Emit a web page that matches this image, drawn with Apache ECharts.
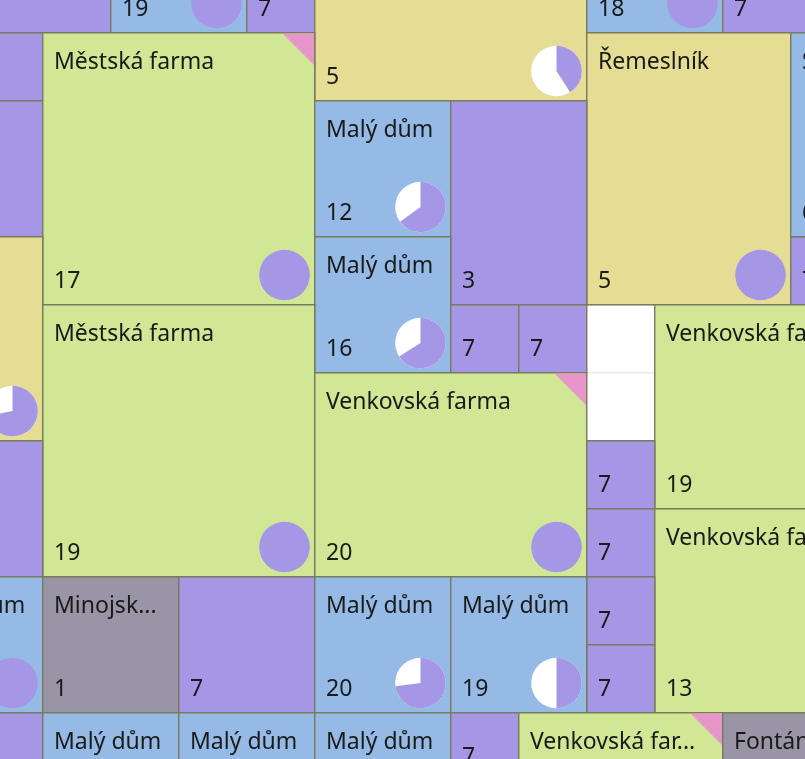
<!DOCTYPE html>
<html><head><meta charset="utf-8">
<script src="https://cdn.jsdelivr.net/npm/echarts@6/dist/echarts.min.js"></script>
<style>html,body{margin:0;padding:0;background:#fff;overflow:hidden}#c{width:805px;height:759px}</style>
</head><body><div id="c"></div>
<script>
// Tile data (grid units: column, row, width, height)
const tileNames = ['', '', '', 'Malý dům', '', 'Řemeslník', 'Malý dům', '', '', '', 'Městská farma', 'Řemeslník', 'Střední dům', 'Malý dům', '', 'Řemeslník', 'Malý dům', '', 'Městská farma', '', '', 'Venkovská farma', 'Venkovská farma', '', '', '', 'Venkovská farma', '', '', 'Malý dům', 'Minojský palác', '', 'Malý dům', 'Malý dům', '', 'Malý dům', 'Malý dům', 'Malý dům', '', 'Venkovská farma', 'Fontána'];
const tileKinds = ['empty', 'empty', 'road', 'house', 'road', 'craft', 'house', 'road', 'road', 'road', 'farm', 'craft', 'house', 'house', 'road', 'craft', 'house', 'road', 'farm', 'road', 'road', 'farm', 'farm', 'road', 'road', 'road', 'farm', 'road', 'road', 'house', 'wonder', 'road', 'house', 'house', 'road', 'house', 'house', 'house', 'road', 'farm', 'wonder'];
const tileCol = [8, 8, -1, 1, 3, 4, 8, 10, -1, -1, 0, 8, 11, 4, 6, -4, 4, 11, 0, 6, 7, 9, 4, -1, 8, 8, 9, 8, 8, -2, 0, 2, 4, 6, -1, 0, 2, 4, 6, 7, 10];
const tileRow = [4, 5, -1, -2, -1, -2, -2, -1, 0, 1, 0, 0, 0, 1, 1, 3, 3, 3, 4, 4, 4, 4, 5, 6, 6, 7, 7, 8, 9, 8, 8, 8, 8, 8, 10, 10, 10, 10, 10, 10, 10];
const tileW = [1, 1, 2, 2, 1, 4, 2, 2, 1, 1, 4, 3, 2, 2, 2, 4, 2, 1, 4, 1, 1, 4, 4, 1, 1, 1, 4, 1, 1, 2, 2, 2, 2, 2, 1, 2, 2, 2, 1, 3, 2];
const tileH = [1, 1, 1, 2, 1, 3, 2, 1, 1, 2, 4, 4, 3, 2, 3, 3, 2, 1, 4, 1, 1, 3, 3, 2, 1, 1, 3, 1, 1, 2, 2, 2, 2, 2, 1, 2, 2, 2, 1, 3, 2];
const tileValues = [null, null, 7, 19, 7, 5, 18, 7, 7, 3, 17, 5, 6, 12, 3, 5, 16, 7, 19, 7, 7, 19, 20, 7, 7, 7, 13, 7, 7, 14, 1, 7, 20, 19, 7, 15, 15, 15, 7, 15, 1];
const tileShares = [null, null, null, 1, null, 0.41, 1, null, null, null, 1, 1, 1, 0.65, null, 0.72, 0.66, null, 1, null, null, 1, 1, null, null, null, 1, null, null, 1, null, null, 0.73, 0.5, null, 1, 1, 1, null, 1, null];
const tileMarked = [0, 0, 0, 0, 0, 0, 0, 0, 0, 0, 1, 0, 0, 0, 0, 0, 0, 0, 0, 0, 0, 0, 1, 0, 0, 0, 0, 0, 0, 0, 0, 0, 0, 0, 0, 0, 0, 0, 0, 1, 0];

const kindColors = { farm: '#d0e796', craft: '#e6dd95', house: '#95bae6', road: '#a597e6', wonder: '#9a95a6', empty: '#ffffff' };
const pieColor = '#a597e6';
const markColor = '#e895c9';
const borderColor = '#7a7a5c';
const FONT = '23px "Noto Sans", sans-serif';

const data = tileNames.map((n, i) => [tileCol[i], tileRow[i], tileW[i], tileH[i], i]);

const chart = echarts.init(document.getElementById('c'), null, { renderer: 'canvas' });
chart.setOption({
  animation: false,
  backgroundColor: '#ffffff',
  grid: { left: 0, right: 0, top: 0, bottom: 0 },
  xAxis: { type: 'value', min: -42 / 68, max: (805 - 42) / 68, show: false },
  yAxis: { type: 'value', inverse: true, min: -32 / 68, max: (759 - 32) / 68, show: false },
  series: [{
    type: 'custom',
    clip: false,
    data: data,
    renderItem: function (params, api) {
      const i = api.value(4);
      const c = api.value(0), r = api.value(1), w = api.value(2), h = api.value(3);
      const p0 = api.coord([c, r]);
      const p1 = api.coord([c + w, r + h]);
      const x0 = Math.round(p0[0]) + 0.5, y0 = Math.round(p0[1]) + 0.5;
      const x1 = Math.round(p1[0]) + 0.5, y1 = Math.round(p1[1]) + 0.5;
      const kind = tileKinds[i];
      const children = [];
      children.push({
        type: 'rect',
        shape: { x: x0 + 0.25, y: y0 + 0.25, width: x1 - x0, height: y1 - y0 },
        style: { fill: kindColors[kind], stroke: kind === 'empty' ? '#ebebeb' : borderColor, lineWidth: 1.4 }
      });
      if (kind === 'empty') return { type: 'group', children: children };
      if (tileMarked[i]) {
        children.push({
          type: 'polygon',
          shape: { points: [[x1 - 32, y0 + 1], [x1 - 0.5, y0 + 1], [x1 - 0.5, y0 + 32.5]] },
          style: { fill: markColor }
        });
      }
      const share = tileShares[i];
      if (share !== null) {
        const cx = x1 - 30, cy = y1 - 29.5, rr = 25.3;
        if (share >= 1) {
          children.push({ type: 'circle', shape: { cx: cx, cy: cy, r: rr }, style: { fill: pieColor } });
        } else {
          children.push({ type: 'circle', shape: { cx: cx, cy: cy, r: rr }, style: { fill: '#ffffff' } });
          children.push({
            type: 'sector',
            shape: { cx: cx, cy: cy, r0: 0, r: rr, startAngle: -Math.PI / 2, endAngle: -Math.PI / 2 + Math.PI * 2 * share, clockwise: true },
            style: { fill: pieColor }
          });
        }
      }
      if (tileNames[i]) {
        children.push({
          type: 'text', x: x0 + 11.5, y: y0 + 30,
          style: { text: tileNames[i], font: FONT, fill: '#1a1a1a', align: 'left', verticalAlign: 'middle', width: (x1 - x0) - 24, overflow: 'truncate', ellipsis: '...' }
        });
      }
      if (tileValues[i] !== null) {
        children.push({
          type: 'text', x: x0 + 11.5, y: y1 - 23,
          style: { text: String(tileValues[i]), font: FONT, fill: '#1a1a1a', align: 'left', verticalAlign: 'middle' }
        });
      }
      return { type: 'group', children: children };
    }
  }]
});
</script>
</body></html>
